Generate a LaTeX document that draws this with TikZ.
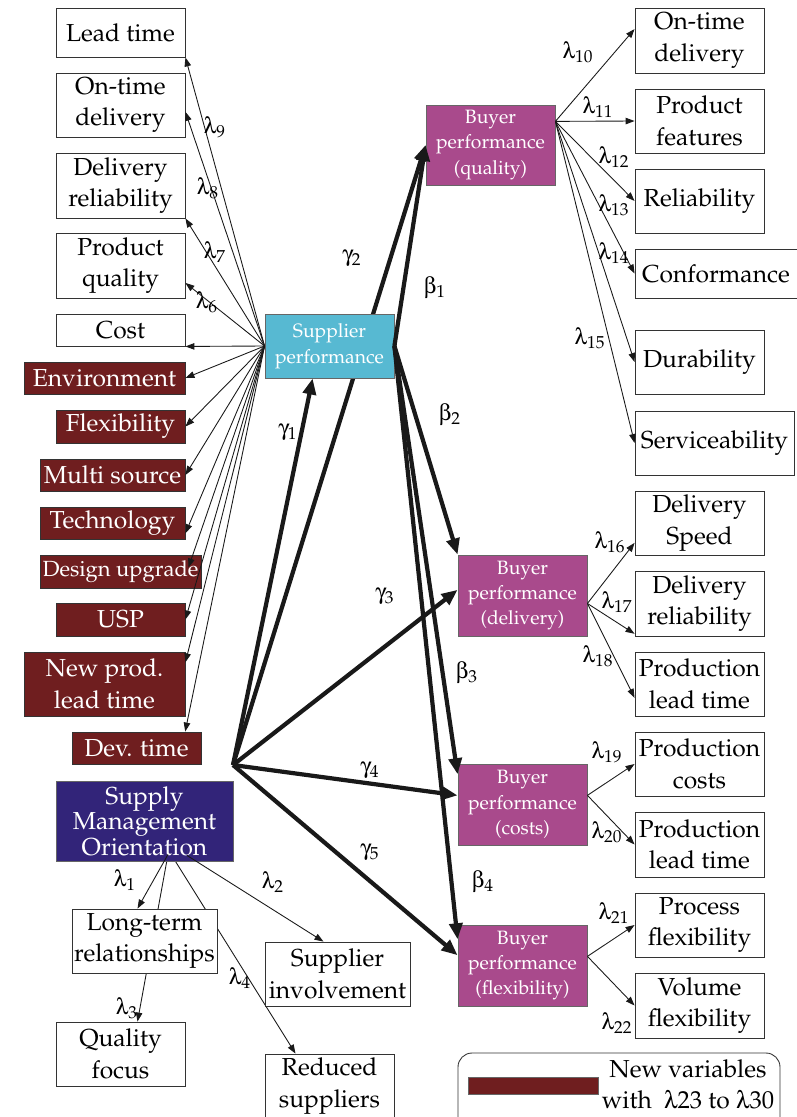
\documentclass[tikz,border=0pt]{standalone}
\usepackage[T1]{fontenc}
\usepackage{mathpazo}
\usepackage[Symbol]{upgreek}
\usetikzlibrary{arrows.meta,calc}
\pgfdeclarelayer{back}
\pgfsetlayers{back,main}
\definecolor{newred}{RGB}{111,30,31}
\definecolor{supcyan}{RGB}{87,185,210}
\definecolor{buyer}{RGB}{169,74,140}
\definecolor{smoblue}{RGB}{50,36,121}
\tikzset{
  ind/.style={draw=black!80, fill=white, align=center, inner sep=1pt, line width=0.5pt,
    minimum width=2.58cm, minimum height=1.28cm, font=\fontsize{14}{18}\selectfont},
  newvar/.style={ind, fill=newred, text=white, minimum height=0.64cm},
  latent/.style={draw=black!60, align=center, text=white, inner sep=1pt, line width=0.5pt,
    minimum width=2.58cm, minimum height=1.28cm, font=\fontsize{11}{14.5}\selectfont},
  load/.style={line width=0.5pt, draw=black!90, -{Triangle[length=1.8mm,width=1.3mm]}},
  causal/.style={line width=2.4pt, draw=black!90, -{Triangle[length=3.2mm,width=2.6mm]}},
  lbl/.style={font=\fontsize{13}{13}\selectfont, inner sep=0pt}
}
\begin{document}
\begin{tikzpicture}[x=0.02cm,y=-0.02cm]
\useasboundingbox (0,0) rectangle (797,1117);

% supplier performance indicators
\node[ind, minimum height=0.98cm] (lead) at (120.5,32.5) {Lead time};
\node[ind] (ontimeL) at (120.5,105) {On-time\\delivery};
\node[ind, minimum height=1.3cm] (relL) at (120.5,185.5) {Delivery\\reliability};
\node[ind, minimum height=1.3cm] (qualL) at (120.5,265.5) {Product\\quality};
\node[ind, minimum height=0.64cm] (cost) at (120.5,330) {Cost};
\node[newvar, minimum width=3.22cm] (env) at (104.5,378) {Environment};
\node[newvar, minimum height=0.66cm] (flex) at (120.5,426.5) {Flexibility};
\node[newvar, minimum width=2.9cm] (multi) at (112.5,475) {Multi source};
\node[newvar, minimum width=2.9cm] (tech) at (112.5,523) {Technology};
\node[newvar, minimum width=3.22cm, minimum height=0.66cm, inner sep=0pt,
  font=\fontsize{12.5}{15}\selectfont] (design) at (120.5,571.5) {Design\ upgrade};
\node[newvar, minimum height=0.66cm] (usp) at (120.5,619.5) {USP};
\node[newvar, minimum width=3.22cm, minimum height=1.28cm] (newprod) at (104.5,684) {New prod.\\lead time};
\node[newvar] (devtime) at (136.5,748) {Dev. time};

% latent constructs
\node[latent, fill=supcyan] (sup) at (329.5,346) {Supplier\\performance};
\node[latent, fill=smoblue, minimum width=3.54cm, minimum height=1.6cm,
  font=\fontsize{14}{14.5}\selectfont] (smo) at (144.5,821) {Supply\\Management\\Orientation};
\node[latent, fill=buyer, minimum height=1.6cm] (bqual) at (490.5,145) {Buyer\\performance\\(quality)};
\node[latent, fill=buyer, minimum height=1.62cm] (bdel) at (522.5,595.5) {Buyer\\performance\\(delivery)};
\node[latent, fill=buyer, minimum height=1.62cm] (bcost) at (522.5,804.5) {Buyer\\performance\\(costs)};
\node[latent, fill=buyer, minimum height=1.62cm] (bflex) at (522.5,965.5) {Buyer\\performance\\(flexibility)};

% supply management indicators
\node[ind, minimum width=2.9cm] (longterm) at (144.5,941) {Long-term\\relationships};
\node[ind] (qfocus) at (120.5,1054) {Quality\\focus};
\node[ind, minimum width=2.9cm] (involve) at (337.5,974) {Supplier\\involvement};
\node[ind] (reduced) at (329.5,1086) {Reduced\\suppliers};

% buyer performance indicators
\node[ind, minimum height=1.3cm] (ontimeR) at (699.5,40.5) {On-time\\delivery};
\node[ind] (features) at (699.5,121) {Product\\features};
\node[ind] (reliab) at (699.5,201) {Reliability};
\node[ind, minimum width=3.24cm, minimum height=0.98cm] (conform) at (716,273.5) {Conformance};
\node[ind] (durab) at (699.5,362) {Durability};
\node[ind, minimum width=3.18cm] (service) at (714.5,443) {Serviceability};
\node[ind] (speed) at (699.5,523) {Delivery\\Speed};
\node[ind, minimum height=1.3cm] (relR) at (699.5,603.5) {Delivery\\reliability};
\node[ind] (pltA) at (699.5,684) {Production\\lead time};
\node[ind] (pcost) at (699.5,764) {Production\\costs};
\node[ind, minimum height=1.3cm] (pltB) at (699.5,844.5) {Production\\lead time};
\node[ind] (procflex) at (699.5,925) {Process\\flexibility};
\node[ind, minimum height=1.3cm] (volflex) at (699.5,1005.5) {Volume\\flexibility};

% legend
\draw[rounded corners=8pt, black!80, line width=0.5pt] (458,1053) rectangle (780,1135);
\node[fill=newred, draw=black!60, minimum width=2.6cm, minimum height=0.34cm, inner sep=0pt] (legbar) at (533,1085.5) {};
\node[align=center, inner sep=0pt, font=\fontsize{14}{17.5}\selectfont] (legtext) at (688,1084) {New variables\\with \ $\uplambda$23 to $\uplambda$30};

\coordinate (hub) at (233,765);
\coordinate (smoA) at ($(smo.south)+(23.5,-7)$);
\coordinate (smoB) at ($(smo.south)+(28.5,-4)$);
\coordinate (smoC) at ($(smo.south)+(42.5,-6)$);

% lines running behind boxes
\begin{pgfonlayer}{back}
\draw[causal] (hub) -- (bqual.west);
\draw[load] (smoA) -- ($(qfocus.north)+(17,0)$);
\draw[load] (smoB) -- ($(reduced.north)+(-34,0)$);
\end{pgfonlayer}

% supplier loadings
\draw[load] (sup.west) -- (lead.south east);
\draw[load] (sup.west) -- (ontimeL.-6);
\draw[load] (sup.west) -- (relL.south east);
\draw[load] (sup.west) -- (qualL.-15);
\draw[load] (sup.west) -- (cost.south east);
\draw[load] (sup.west) -- (env.east);
\draw[load] (sup.west) -- (flex.east);
\draw[load] (sup.west) -- (multi.east);
\draw[load] (sup.west) -- (tech.-8);
\draw[load] (sup.west) -- ($(design.east)+(-13,-4)$);
\draw[load] (sup.west) -- (usp.east);
\draw[load] (sup.west) -- (newprod.15);
\draw[load] (sup.west) -- ($(devtime.north)!.75!(devtime.north east)$);

% structural paths
\draw[causal] (hub) -- ($(sup.south west)!.37!(sup.south east)$);
\draw[causal] (sup.east) -- (bqual.west);
\draw[causal] (sup.east) -- (bdel.north west);
\draw[causal] (sup.east) -- (bcost.155);
\draw[causal] (sup.east) -- (bflex.158);
\draw[causal] (hub) -- (bdel.175);
\draw[causal] (hub) -- (bcost.172);
\draw[causal] (hub) -- (bflex.171);

% buyer loadings
\draw[load] (bqual.20) -- (ontimeR.170);
\draw[load] (bqual.20) -- (features.west);
\draw[load] (bqual.20) -- (reliab.west);
\draw[load] (bqual.20) -- (conform.west);
\draw[load] (bqual.20) -- (durab.west);
\draw[load] (bqual.20) -- (service.west);
\draw[load] (bdel.-7) -- (speed.197);
\draw[load] (bdel.-7) -- (relR.205);
\draw[load] (bdel.-7) -- (pltA.192);
\draw[load] (bcost.8) -- (pcost.west);
\draw[load] (bcost.8) -- (pltB.west);
\draw[load] (bflex.8) -- (procflex.west);
\draw[load] (bflex.8) -- (volflex.west);

% supply management loadings
\draw[load] (smoA) -- ($(longterm.north)+(-7,0)$);
\draw[load] (smoC) -- ($(involve.north)+(-14,0)$);

% labels
\node[lbl] (l1) at (125,880) {$\uplambda_{1}$};
\node[lbl] (l2) at (273,882) {$\uplambda_{2}$};
\node[lbl] (l3) at (127,1008) {$\uplambda_{3}$};
\node[lbl] (l4) at (240,978) {$\uplambda_{4}$};
\node[lbl] (l6) at (207,302) {$\uplambda_{6}$};
\node[lbl] (l7) at (215,252) {$\uplambda_{7}$};
\node[lbl] (l8) at (208,188) {$\uplambda_{8}$};
\node[lbl] (l9) at (215,127) {$\uplambda_{9}$};
\node[lbl] (l10) at (578,52) {$\uplambda_{10}$};
\node[lbl] (l11) at (598,107) {$\uplambda_{11}$};
\node[lbl] (l12) at (614,157) {$\uplambda_{12}$};
\node[lbl] (l13) at (614,205) {$\uplambda_{13}$};
\node[lbl] (l14) at (614,253) {$\uplambda_{14}$};
\node[lbl] (l15) at (590,338) {$\uplambda_{15}$};
\node[lbl] (l16) at (610,542) {$\uplambda_{16}$};
\node[lbl] (l17) at (617,602) {$\uplambda_{17}$};
\node[lbl] (l18) at (598,656) {$\uplambda_{18}$};
\node[lbl] (l19) at (607,752) {$\uplambda_{19}$};
\node[lbl] (l20) at (607,832) {$\uplambda_{20}$};
\node[lbl] (l21) at (614,913) {$\uplambda_{21}$};
\node[lbl] (l22) at (617,1023) {$\uplambda_{22}$};
\node[lbl] (g1) at (288,432) {$\upgamma_{1}$};
\node[lbl] (g2) at (352,258) {$\upgamma_{2}$};
\node[lbl] (g3) at (385,596) {$\upgamma_{3}$};
\node[lbl] (g4) at (370,770) {$\upgamma_{4}$};
\node[lbl] (g5) at (370,852) {$\upgamma_{5}$};
\node[lbl] (b1) at (435,288) {$\upbeta_{1}$};
\node[lbl] (b2) at (450,415) {$\upbeta_{2}$};
\node[lbl] (b3) at (467,673) {$\upbeta_{3}$};
\node[lbl] (b4) at (483,882) {$\upbeta_{4}$};
\end{tikzpicture}
\end{document}
